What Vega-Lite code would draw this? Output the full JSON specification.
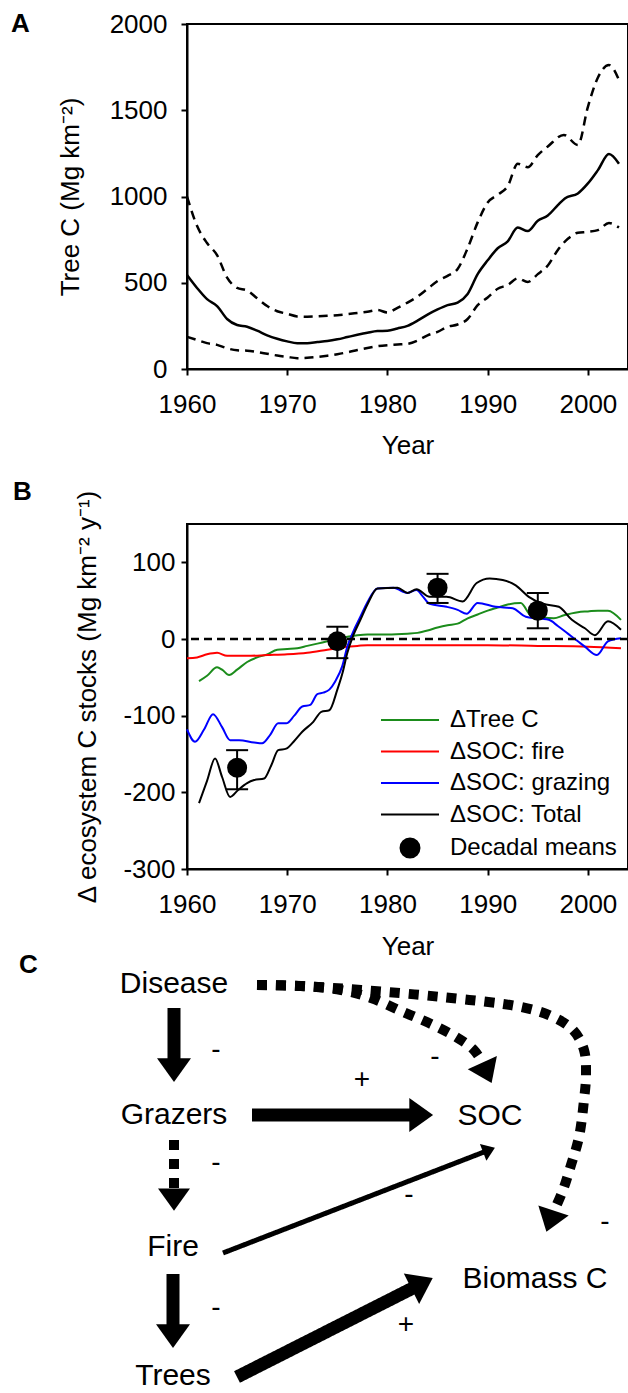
{
  "$schema": "https://vega.github.io/schema/vega-lite/v6.json",
  "padding": {"left": 10, "top": 10, "right": 0, "bottom": 0},
  "autosize": {"type": "pad"},
  "bounds": "flush",
  "spacing": 155,
  "resolve": {"scale": {"color": "independent"}, "legend": {"color": "independent"}},
  "config": {
    "font": "Liberation Sans",
    "view": {"stroke": "black", "strokeWidth": 2},
    "axis": {
      "grid": false, "domainColor": "black", "domainWidth": 2, "tickColor": "black", "tickWidth": 2, "tickSize": 6,
      "labelFont": "Liberation Sans", "labelFontSize": 26, "labelColor": "black", "labelPadding": 16, "labelFlush": false,
      "titleFont": "Liberation Sans", "titleFontSize": 26, "titleFontWeight": "normal", "titleColor": "black"
    },
    "text": {"font": "Liberation Sans", "color": "black"}
  },
  "datasets": {
    "treeC": [
      {"year": 1960, "stat": "mean", "c": 545}, {"year": 1961, "stat": "mean", "c": 470}, {"year": 1962, "stat": "mean", "c": 405},
      {"year": 1963, "stat": "mean", "c": 365}, {"year": 1964, "stat": "mean", "c": 290}, {"year": 1965, "stat": "mean", "c": 255},
      {"year": 1966, "stat": "mean", "c": 245}, {"year": 1967, "stat": "mean", "c": 222}, {"year": 1968, "stat": "mean", "c": 195},
      {"year": 1969, "stat": "mean", "c": 175}, {"year": 1970, "stat": "mean", "c": 160}, {"year": 1971, "stat": "mean", "c": 150},
      {"year": 1972, "stat": "mean", "c": 150}, {"year": 1973, "stat": "mean", "c": 156}, {"year": 1974, "stat": "mean", "c": 162},
      {"year": 1975, "stat": "mean", "c": 172}, {"year": 1976, "stat": "mean", "c": 185}, {"year": 1977, "stat": "mean", "c": 198},
      {"year": 1978, "stat": "mean", "c": 210}, {"year": 1979, "stat": "mean", "c": 220}, {"year": 1980, "stat": "mean", "c": 222},
      {"year": 1981, "stat": "mean", "c": 235}, {"year": 1982, "stat": "mean", "c": 250}, {"year": 1983, "stat": "mean", "c": 280},
      {"year": 1984, "stat": "mean", "c": 315}, {"year": 1985, "stat": "mean", "c": 345}, {"year": 1986, "stat": "mean", "c": 370},
      {"year": 1987, "stat": "mean", "c": 385}, {"year": 1988, "stat": "mean", "c": 435}, {"year": 1989, "stat": "mean", "c": 550},
      {"year": 1990, "stat": "mean", "c": 630}, {"year": 1991, "stat": "mean", "c": 700}, {"year": 1992, "stat": "mean", "c": 740},
      {"year": 1993, "stat": "mean", "c": 820}, {"year": 1994, "stat": "mean", "c": 800}, {"year": 1995, "stat": "mean", "c": 860},
      {"year": 1996, "stat": "mean", "c": 890}, {"year": 1997, "stat": "mean", "c": 950}, {"year": 1997.7, "stat": "mean", "c": 989},
      {"year": 1999, "stat": "mean", "c": 1018}, {"year": 2000, "stat": "mean", "c": 1076}, {"year": 2001, "stat": "mean", "c": 1153},
      {"year": 2002.1, "stat": "mean", "c": 1246}, {"year": 2003.1, "stat": "mean", "c": 1190},
      {"year": 1960, "stat": "upper", "c": 1000}, {"year": 1961, "stat": "upper", "c": 830}, {"year": 1962, "stat": "upper", "c": 730},
      {"year": 1963, "stat": "upper", "c": 660}, {"year": 1964, "stat": "upper", "c": 530}, {"year": 1965, "stat": "upper", "c": 470},
      {"year": 1966, "stat": "upper", "c": 455}, {"year": 1967, "stat": "upper", "c": 410}, {"year": 1968, "stat": "upper", "c": 365},
      {"year": 1969, "stat": "upper", "c": 335}, {"year": 1970, "stat": "upper", "c": 320}, {"year": 1971, "stat": "upper", "c": 305},
      {"year": 1972, "stat": "upper", "c": 303}, {"year": 1973, "stat": "upper", "c": 305}, {"year": 1974, "stat": "upper", "c": 308},
      {"year": 1975, "stat": "upper", "c": 312}, {"year": 1976, "stat": "upper", "c": 318}, {"year": 1977, "stat": "upper", "c": 325},
      {"year": 1978, "stat": "upper", "c": 332}, {"year": 1979, "stat": "upper", "c": 342}, {"year": 1980, "stat": "upper", "c": 328},
      {"year": 1981, "stat": "upper", "c": 355}, {"year": 1982, "stat": "upper", "c": 385}, {"year": 1983, "stat": "upper", "c": 420},
      {"year": 1984, "stat": "upper", "c": 465}, {"year": 1985, "stat": "upper", "c": 510}, {"year": 1986, "stat": "upper", "c": 540},
      {"year": 1987, "stat": "upper", "c": 580}, {"year": 1988, "stat": "upper", "c": 700}, {"year": 1989, "stat": "upper", "c": 850},
      {"year": 1990, "stat": "upper", "c": 965}, {"year": 1991, "stat": "upper", "c": 1010}, {"year": 1992, "stat": "upper", "c": 1060},
      {"year": 1993, "stat": "upper", "c": 1190}, {"year": 1994, "stat": "upper", "c": 1170}, {"year": 1995, "stat": "upper", "c": 1240},
      {"year": 1996, "stat": "upper", "c": 1290}, {"year": 1997.6, "stat": "upper", "c": 1357}, {"year": 1999, "stat": "upper", "c": 1298},
      {"year": 2000, "stat": "upper", "c": 1520}, {"year": 2001, "stat": "upper", "c": 1690}, {"year": 2002.1, "stat": "upper", "c": 1762},
      {"year": 2003.1, "stat": "upper", "c": 1675},
      {"year": 1960, "stat": "lower", "c": 187}, {"year": 1961, "stat": "lower", "c": 168}, {"year": 1962, "stat": "lower", "c": 150},
      {"year": 1963, "stat": "lower", "c": 140}, {"year": 1964, "stat": "lower", "c": 120}, {"year": 1965, "stat": "lower", "c": 108},
      {"year": 1966, "stat": "lower", "c": 106}, {"year": 1967, "stat": "lower", "c": 98}, {"year": 1968, "stat": "lower", "c": 88},
      {"year": 1969, "stat": "lower", "c": 78}, {"year": 1970, "stat": "lower", "c": 70}, {"year": 1971, "stat": "lower", "c": 63},
      {"year": 1972, "stat": "lower", "c": 65}, {"year": 1973, "stat": "lower", "c": 70}, {"year": 1974, "stat": "lower", "c": 77},
      {"year": 1975, "stat": "lower", "c": 86}, {"year": 1976, "stat": "lower", "c": 97}, {"year": 1977, "stat": "lower", "c": 110},
      {"year": 1978, "stat": "lower", "c": 122}, {"year": 1979, "stat": "lower", "c": 132}, {"year": 1980, "stat": "lower", "c": 138},
      {"year": 1981, "stat": "lower", "c": 142}, {"year": 1982, "stat": "lower", "c": 146}, {"year": 1983, "stat": "lower", "c": 165},
      {"year": 1984, "stat": "lower", "c": 195}, {"year": 1985, "stat": "lower", "c": 215}, {"year": 1986, "stat": "lower", "c": 245},
      {"year": 1987, "stat": "lower", "c": 258}, {"year": 1988, "stat": "lower", "c": 290}, {"year": 1989, "stat": "lower", "c": 370},
      {"year": 1990, "stat": "lower", "c": 415}, {"year": 1991, "stat": "lower", "c": 465}, {"year": 1992, "stat": "lower", "c": 487},
      {"year": 1993, "stat": "lower", "c": 525}, {"year": 1994, "stat": "lower", "c": 505}, {"year": 1995, "stat": "lower", "c": 550},
      {"year": 1996, "stat": "lower", "c": 600}, {"year": 1997, "stat": "lower", "c": 690}, {"year": 1998, "stat": "lower", "c": 755},
      {"year": 1999, "stat": "lower", "c": 790}, {"year": 2000, "stat": "lower", "c": 795}, {"year": 2001, "stat": "lower", "c": 805},
      {"year": 2002.1, "stat": "lower", "c": 846}, {"year": 2003.1, "stat": "lower", "c": 820}
    ],
    "soc": [
      {"series": "ΔTree C", "year": 1961.2, "v": -55}, {"series": "ΔTree C", "year": 1962, "v": -48}, {"series": "ΔTree C", "year": 1963, "v": -37},
      {"series": "ΔTree C", "year": 1963.5, "v": -40}, {"series": "ΔTree C", "year": 1964.2, "v": -47}, {"series": "ΔTree C", "year": 1965, "v": -40},
      {"series": "ΔTree C", "year": 1966, "v": -30}, {"series": "ΔTree C", "year": 1967, "v": -24}, {"series": "ΔTree C", "year": 1968, "v": -20},
      {"series": "ΔTree C", "year": 1969, "v": -14}, {"series": "ΔTree C", "year": 1970, "v": -13}, {"series": "ΔTree C", "year": 1971, "v": -12},
      {"series": "ΔTree C", "year": 1972, "v": -9}, {"series": "ΔTree C", "year": 1973, "v": -6}, {"series": "ΔTree C", "year": 1974, "v": -3},
      {"series": "ΔTree C", "year": 1975, "v": 0}, {"series": "ΔTree C", "year": 1976, "v": 3}, {"series": "ΔTree C", "year": 1977, "v": 5},
      {"series": "ΔTree C", "year": 1978, "v": 6}, {"series": "ΔTree C", "year": 1980, "v": 6}, {"series": "ΔTree C", "year": 1982, "v": 7},
      {"series": "ΔTree C", "year": 1983, "v": 8}, {"series": "ΔTree C", "year": 1984, "v": 11}, {"series": "ΔTree C", "year": 1985, "v": 15},
      {"series": "ΔTree C", "year": 1986, "v": 18}, {"series": "ΔTree C", "year": 1987, "v": 20}, {"series": "ΔTree C", "year": 1988, "v": 27},
      {"series": "ΔTree C", "year": 1989, "v": 32}, {"series": "ΔTree C", "year": 1990, "v": 37}, {"series": "ΔTree C", "year": 1991, "v": 41},
      {"series": "ΔTree C", "year": 1992, "v": 45}, {"series": "ΔTree C", "year": 1993.3, "v": 47}, {"series": "ΔTree C", "year": 1994.3, "v": 31},
      {"series": "ΔTree C", "year": 1995.5, "v": 28}, {"series": "ΔTree C", "year": 1996.6, "v": 27}, {"series": "ΔTree C", "year": 1997.6, "v": 31},
      {"series": "ΔTree C", "year": 1999, "v": 35}, {"series": "ΔTree C", "year": 2000, "v": 36}, {"series": "ΔTree C", "year": 2001, "v": 37},
      {"series": "ΔTree C", "year": 2002, "v": 37}, {"series": "ΔTree C", "year": 2003.3, "v": 25},
      {"series": "ΔSOC: fire", "year": 1960, "v": -25}, {"series": "ΔSOC: fire", "year": 1961, "v": -24}, {"series": "ΔSOC: fire", "year": 1962, "v": -20},
      {"series": "ΔSOC: fire", "year": 1963, "v": -18}, {"series": "ΔSOC: fire", "year": 1964, "v": -22}, {"series": "ΔSOC: fire", "year": 1966, "v": -22},
      {"series": "ΔSOC: fire", "year": 1968, "v": -21}, {"series": "ΔSOC: fire", "year": 1970, "v": -20}, {"series": "ΔSOC: fire", "year": 1972, "v": -18},
      {"series": "ΔSOC: fire", "year": 1974, "v": -14}, {"series": "ΔSOC: fire", "year": 1975, "v": -12}, {"series": "ΔSOC: fire", "year": 1976, "v": -10},
      {"series": "ΔSOC: fire", "year": 1977, "v": -9}, {"series": "ΔSOC: fire", "year": 1978, "v": -8}, {"series": "ΔSOC: fire", "year": 1985, "v": -8},
      {"series": "ΔSOC: fire", "year": 1990, "v": -8}, {"series": "ΔSOC: fire", "year": 1995, "v": -9}, {"series": "ΔSOC: fire", "year": 2000, "v": -10},
      {"series": "ΔSOC: fire", "year": 2003.3, "v": -12},
      {"series": "ΔSOC: grazing", "year": 1960, "v": -118}, {"series": "ΔSOC: grazing", "year": 1960.8, "v": -134}, {"series": "ΔSOC: grazing", "year": 1961.7, "v": -118},
      {"series": "ΔSOC: grazing", "year": 1962.6, "v": -98}, {"series": "ΔSOC: grazing", "year": 1963.5, "v": -115}, {"series": "ΔSOC: grazing", "year": 1964.3, "v": -132},
      {"series": "ΔSOC: grazing", "year": 1965.2, "v": -132}, {"series": "ΔSOC: grazing", "year": 1966.7, "v": -135}, {"series": "ΔSOC: grazing", "year": 1967.5, "v": -136},
      {"series": "ΔSOC: grazing", "year": 1968.3, "v": -125}, {"series": "ΔSOC: grazing", "year": 1969.1, "v": -110}, {"series": "ΔSOC: grazing", "year": 1969.9, "v": -110},
      {"series": "ΔSOC: grazing", "year": 1970.7, "v": -100}, {"series": "ΔSOC: grazing", "year": 1971.5, "v": -88}, {"series": "ΔSOC: grazing", "year": 1972.3, "v": -86},
      {"series": "ΔSOC: grazing", "year": 1973, "v": -72}, {"series": "ΔSOC: grazing", "year": 1973.6, "v": -70}, {"series": "ΔSOC: grazing", "year": 1974.2, "v": -66},
      {"series": "ΔSOC: grazing", "year": 1974.8, "v": -55}, {"series": "ΔSOC: grazing", "year": 1975.5, "v": -35}, {"series": "ΔSOC: grazing", "year": 1976, "v": -10},
      {"series": "ΔSOC: grazing", "year": 1976.6, "v": 10}, {"series": "ΔSOC: grazing", "year": 1977.3, "v": 29}, {"series": "ΔSOC: grazing", "year": 1978, "v": 48},
      {"series": "ΔSOC: grazing", "year": 1979, "v": 66}, {"series": "ΔSOC: grazing", "year": 1980.6, "v": 67}, {"series": "ΔSOC: grazing", "year": 1981.5, "v": 62},
      {"series": "ΔSOC: grazing", "year": 1982, "v": 60}, {"series": "ΔSOC: grazing", "year": 1982.9, "v": 64}, {"series": "ΔSOC: grazing", "year": 1983.5, "v": 56},
      {"series": "ΔSOC: grazing", "year": 1984.2, "v": 46}, {"series": "ΔSOC: grazing", "year": 1985.9, "v": 42}, {"series": "ΔSOC: grazing", "year": 1987, "v": 38},
      {"series": "ΔSOC: grazing", "year": 1987.9, "v": 33}, {"series": "ΔSOC: grazing", "year": 1989, "v": 47}, {"series": "ΔSOC: grazing", "year": 1990.8, "v": 42},
      {"series": "ΔSOC: grazing", "year": 1992.5, "v": 40}, {"series": "ΔSOC: grazing", "year": 1993.8, "v": 29}, {"series": "ΔSOC: grazing", "year": 1996.1, "v": 25},
      {"series": "ΔSOC: grazing", "year": 1997, "v": 17}, {"series": "ΔSOC: grazing", "year": 1998, "v": 7}, {"series": "ΔSOC: grazing", "year": 1999, "v": -3},
      {"series": "ΔSOC: grazing", "year": 1999.7, "v": -10}, {"series": "ΔSOC: grazing", "year": 2000.9, "v": -21}, {"series": "ΔSOC: grazing", "year": 2002, "v": -3},
      {"series": "ΔSOC: grazing", "year": 2003.3, "v": 1},
      {"series": "ΔSOC: Total", "year": 1961.2, "v": -214}, {"series": "ΔSOC: Total", "year": 1962, "v": -185}, {"series": "ΔSOC: Total", "year": 1962.8, "v": -156},
      {"series": "ΔSOC: Total", "year": 1963.5, "v": -180}, {"series": "ΔSOC: Total", "year": 1964.3, "v": -206}, {"series": "ΔSOC: Total", "year": 1965.1, "v": -197},
      {"series": "ΔSOC: Total", "year": 1966, "v": -188}, {"series": "ΔSOC: Total", "year": 1966.7, "v": -184}, {"series": "ΔSOC: Total", "year": 1967.7, "v": -182},
      {"series": "ΔSOC: Total", "year": 1968.4, "v": -165}, {"series": "ΔSOC: Total", "year": 1969.1, "v": -145}, {"series": "ΔSOC: Total", "year": 1969.9, "v": -143},
      {"series": "ΔSOC: Total", "year": 1970.7, "v": -133}, {"series": "ΔSOC: Total", "year": 1971.5, "v": -121}, {"series": "ΔSOC: Total", "year": 1972.6, "v": -108},
      {"series": "ΔSOC: Total", "year": 1973.4, "v": -95}, {"series": "ΔSOC: Total", "year": 1974.2, "v": -93}, {"series": "ΔSOC: Total", "year": 1975, "v": -66},
      {"series": "ΔSOC: Total", "year": 1975.5, "v": -45}, {"series": "ΔSOC: Total", "year": 1976, "v": -18}, {"series": "ΔSOC: Total", "year": 1976.6, "v": 5},
      {"series": "ΔSOC: Total", "year": 1977.3, "v": 25}, {"series": "ΔSOC: Total", "year": 1978, "v": 45}, {"series": "ΔSOC: Total", "year": 1979, "v": 66},
      {"series": "ΔSOC: Total", "year": 1981, "v": 67}, {"series": "ΔSOC: Total", "year": 1982, "v": 60}, {"series": "ΔSOC: Total", "year": 1982.9, "v": 65},
      {"series": "ΔSOC: Total", "year": 1984.2, "v": 55}, {"series": "ΔSOC: Total", "year": 1985.9, "v": 55}, {"series": "ΔSOC: Total", "year": 1987.5, "v": 49},
      {"series": "ΔSOC: Total", "year": 1988.9, "v": 73}, {"series": "ΔSOC: Total", "year": 1990.2, "v": 79}, {"series": "ΔSOC: Total", "year": 1991.5, "v": 77},
      {"series": "ΔSOC: Total", "year": 1992.8, "v": 70}, {"series": "ΔSOC: Total", "year": 1994.1, "v": 55}, {"series": "ΔSOC: Total", "year": 1995.5, "v": 46},
      {"series": "ΔSOC: Total", "year": 1997.1, "v": 42}, {"series": "ΔSOC: Total", "year": 1998.4, "v": 25}, {"series": "ΔSOC: Total", "year": 1999.7, "v": 14},
      {"series": "ΔSOC: Total", "year": 2000.7, "v": 5}, {"series": "ΔSOC: Total", "year": 2002, "v": 23}, {"series": "ΔSOC: Total", "year": 2003.3, "v": 12}
    ],
    "decadal": [
      {"series": "Decadal means", "year": 1965, "mean": -168, "lo": -196, "hi": -145},
      {"series": "Decadal means", "year": 1975, "mean": -3, "lo": -25, "hi": 16},
      {"series": "Decadal means", "year": 1985, "mean": 67, "lo": 47, "hi": 85},
      {"series": "Decadal means", "year": 1995, "mean": 37, "lo": 14, "hi": 60}
    ],
    "nodes": [
      {"label": "Disease", "x": -3.25, "y": -10}, {"label": "Grazers", "x": -3.25, "y": 22.75},
      {"label": "SOC", "x": 75.75, "y": 23}, {"label": "Fire", "x": -3.5, "y": 55.75},
      {"label": "Trees", "x": -3.5, "y": 88}, {"label": "Biomass C", "x": 87, "y": 63.75}
    ],
    "signs": [
      {"sign": "-", "x": 7.25, "y": 6.5}, {"sign": "+", "x": 43.75, "y": 14}, {"sign": "-", "x": 62, "y": 8.25},
      {"sign": "-", "x": 7.25, "y": 34.75}, {"sign": "-", "x": 55.5, "y": 42.75}, {"sign": "-", "x": 104.5, "y": 49.5},
      {"sign": "-", "x": 7.25, "y": 71}, {"sign": "+", "x": 54.75, "y": 75.25}
    ],
    "links": [
      {"link": "Disease→Grazers", "kind": "strong", "path": "straight", "x": -3.25, "y": -4, "x2": -3.25, "y2": 9},
      {"link": "Grazers→SOC", "kind": "strong", "path": "straight", "x": 16.25, "y": 22.75, "x2": 56, "y2": 22.75},
      {"link": "Grazers→Fire", "kind": "uncertain", "path": "straight", "x": -3.25, "y": 29, "x2": -3.25, "y2": 41.5},
      {"link": "Fire→Trees", "kind": "strong", "path": "straight", "x": -3.5, "y": 62.5, "x2": -3.5, "y2": 75.5},
      {"link": "Fire→SOC", "kind": "weak", "path": "straight", "x": 9, "y": 57.25, "x2": 74.25, "y2": 32},
      {"link": "Trees→Biomass C", "kind": "strong", "path": "straight", "x": 12.5, "y": 88.25, "x2": 56.5, "y2": 66},
      {"link": "Disease→SOC", "kind": "uncertain", "path": "curved", "x": 72.75, "y": 7.25, "x2": 74, "y2": 10},
      {"link": "Disease→Biomass C", "kind": "uncertain", "path": "curved", "x": 92.5, "y": 44, "x2": 91.5, "y2": 47}
    ],
    "curves": [
      {"link": "Disease→SOC", "i": 0, "x": 17.5, "y": -9.75}, {"link": "Disease→SOC", "i": 1, "x": 28.5, "y": -9.5},
      {"link": "Disease→SOC", "i": 2, "x": 38.5, "y": -8.5}, {"link": "Disease→SOC", "i": 3, "x": 46, "y": -6.5},
      {"link": "Disease→SOC", "i": 4, "x": 53.5, "y": -3.25}, {"link": "Disease→SOC", "i": 5, "x": 61, "y": 0},
      {"link": "Disease→SOC", "i": 6, "x": 67.25, "y": 3.25}, {"link": "Disease→SOC", "i": 7, "x": 71.5, "y": 6.25},
      {"link": "Disease→SOC", "i": 8, "x": 74, "y": 9.75},
      {"link": "Disease→Biomass C", "i": 0, "x": 17.5, "y": -9.75}, {"link": "Disease→Biomass C", "i": 1, "x": 28.5, "y": -9.5},
      {"link": "Disease→Biomass C", "i": 2, "x": 43.5, "y": -8.5}, {"link": "Disease→Biomass C", "i": 3, "x": 63.5, "y": -6.75},
      {"link": "Disease→Biomass C", "i": 4, "x": 83.5, "y": -4.25}, {"link": "Disease→Biomass C", "i": 5, "x": 91, "y": -2},
      {"link": "Disease→Biomass C", "i": 6, "x": 96.5, "y": 1.5}, {"link": "Disease→Biomass C", "i": 7, "x": 99.25, "y": 6.5},
      {"link": "Disease→Biomass C", "i": 8, "x": 99.75, "y": 12.75}, {"link": "Disease→Biomass C", "i": 9, "x": 99.25, "y": 19},
      {"link": "Disease→Biomass C", "i": 10, "x": 98, "y": 28.25}, {"link": "Disease→Biomass C", "i": 11, "x": 96, "y": 35.25},
      {"link": "Disease→Biomass C", "i": 12, "x": 94, "y": 41.5}, {"link": "Disease→Biomass C", "i": 13, "x": 91.75, "y": 46.75}
    ]
  },
  "vconcat": [
    {
      "width": 441, "height": 345,
      "layer": [
        {
          "data": {"name": "treeC"},
          "transform": [{"filter": "datum.stat === 'mean'"}],
          "mark": {"type": "line", "color": "black", "strokeWidth": 2.5, "interpolate": "monotone"},
          "encoding": {
            "x": {"field": "year", "type": "quantitative", "title": "Year", "scale": {"domain": [1960, 2004], "nice": false, "zero": false},
                  "axis": {"values": [1960, 1970, 1980, 1990, 2000], "format": "d", "titlePadding": 15}},
            "y": {"field": "c", "type": "quantitative", "title": "Tree C (Mg km⁻²)", "scale": {"domain": [0, 2000], "nice": false},
                  "axis": {"values": [0, 500, 1000, 1500, 2000], "format": "d", "labelPadding": 14, "titlePadding": 26}}
          }
        },
        {
          "data": {"name": "treeC"},
          "transform": [{"filter": "datum.stat !== 'mean'"}],
          "mark": {"type": "line", "color": "black", "strokeWidth": 2.5, "strokeDash": [9, 6], "interpolate": "monotone"},
          "encoding": {
            "x": {"field": "year", "type": "quantitative", "title": "Year"},
            "y": {"field": "c", "type": "quantitative", "title": "Tree C (Mg km⁻²)"},
            "detail": {"field": "stat"}
          }
        },
        {
          "data": {"values": [{"panel": "A"}]},
          "mark": {"type": "text", "fontSize": 26, "fontWeight": "bold", "align": "left", "baseline": "middle"},
          "encoding": {"x": {"datum": 1942.44}, "y": {"datum": 2000}, "text": {"field": "panel"}}
        }
      ]
    },
    {
      "width": 441, "height": 345,
      "layer": [
        {
          "data": {"name": "soc"},
          "mark": {"type": "line", "strokeWidth": 2, "interpolate": "monotone"},
          "encoding": {
            "x": {"field": "year", "type": "quantitative", "title": "Year", "scale": {"domain": [1960, 2004], "nice": false, "zero": false},
                  "axis": {"values": [1960, 1970, 1980, 1990, 2000], "format": "d", "titlePadding": 16}},
            "y": {"field": "v", "type": "quantitative", "title": "Δ ecosystem C stocks (Mg km⁻² y⁻¹)", "scale": {"domain": [-300, 150], "nice": false},
                  "axis": {"values": [-300, -200, -100, 0, 100], "labelExpr": "datum.value + ''", "labelPadding": 6, "titlePadding": 22}},
            "color": {
              "field": "series", "type": "nominal",
              "scale": {"domain": ["ΔTree C", "ΔSOC: fire", "ΔSOC: grazing", "ΔSOC: Total", "Decadal means"],
                        "range": ["#1b8c1b", "#ff0000", "#0000ff", "#000000", "#000000"]},
              "legend": {
                "orient": "none", "legendX": 211, "legendY": 184, "title": null,
                "labelFont": "Liberation Sans", "labelFontSize": 24, "labelColor": "black", "labelLimit": 400,
                "symbolSize": 374, "symbolType": "M-3,0H3", "symbolStrokeWidth": 2, "labelOffset": 28, "rowPadding": 7.5,
                "encode": {
                  "symbols": {
                    "update": {
                      "shape": {"signal": "datum.value === 'Decadal means' ? 'circle' : 'M-3,0H3'"},
                      "size": {"signal": "datum.value === 'Decadal means' ? 360 : 374"},
                      "fill": {"signal": "datum.value === 'Decadal means' ? 'black' : 'transparent'"},
                      "stroke": {"signal": "datum.value === 'ΔTree C' ? '#1b8c1b' : datum.value === 'ΔSOC: fire' ? '#ff0000' : datum.value === 'ΔSOC: grazing' ? '#0000ff' : 'black'"},
                      "strokeWidth": {"value": 2},
                      "opacity": {"value": 1}
                    }
                  }
                }
              }
            }
          }
        },
        {
          "data": {"values": [{"ref": 0}]},
          "mark": {"type": "rule", "color": "black", "strokeWidth": 2.5, "strokeDash": [8, 5]},
          "encoding": {"y": {"field": "ref", "type": "quantitative", "title": "Δ ecosystem C stocks (Mg km⁻² y⁻¹)"}}
        },
        {
          "data": {"name": "decadal"},
          "mark": {"type": "errorbar", "color": "black", "thickness": 2, "ticks": {"size": 22, "thickness": 2, "color": "black", "opacity": 1}, "rule": {"strokeWidth": 2, "color": "black", "opacity": 1}},
          "encoding": {
            "x": {"field": "year", "type": "quantitative", "title": "Year"},
            "y": {"field": "lo", "type": "quantitative", "title": "Δ ecosystem C stocks (Mg km⁻² y⁻¹)"},
            "y2": {"field": "hi"}
          }
        },
        {
          "data": {"name": "decadal"},
          "mark": {"type": "point", "shape": "circle", "filled": true, "size": 400, "opacity": 1},
          "encoding": {
            "x": {"field": "year", "type": "quantitative", "title": "Year"},
            "y": {"field": "mean", "type": "quantitative", "title": "Δ ecosystem C stocks (Mg km⁻² y⁻¹)"},
            "color": {"field": "series", "type": "nominal"}
          }
        },
        {
          "data": {"values": [{"panel": "B"}]},
          "mark": {"type": "text", "fontSize": 26, "fontWeight": "bold", "align": "left", "baseline": "middle"},
          "encoding": {"x": {"datum": 1942.64}, "y": {"datum": 191.7}, "text": {"field": "panel"}}
        }
      ]
    },
    {
      "width": 441, "height": 360,
      "view": {"stroke": null},
      "layer": [
        {
          "data": {"name": "links"},
          "transform": [{"filter": "datum.path === 'straight'"}],
          "mark": {"type": "rule", "color": "black", "strokeCap": "butt"},
          "encoding": {
            "x": {"field": "x", "type": "quantitative", "scale": {"domain": [0, 110.25], "nice": false, "zero": false}, "axis": null},
            "y": {"field": "y", "type": "quantitative", "scale": {"domain": [0, 90], "nice": false, "zero": false, "reverse": true}, "axis": null},
            "x2": {"field": "x2"},
            "y2": {"field": "y2"},
            "strokeWidth": {"field": "kind", "type": "nominal", "scale": {"type": "ordinal", "domain": ["strong", "weak", "uncertain"], "range": [13, 5, 10]}, "legend": null},
            "strokeDash": {"field": "kind", "type": "nominal", "scale": {"domain": ["strong", "weak", "uncertain"], "range": [[1, 0], [1, 0], [10, 9]]}, "legend": null}
          }
        },
        {
          "data": {"name": "curves"},
          "mark": {"type": "line", "color": "black", "strokeWidth": 10, "strokeDash": [10, 9], "interpolate": "catmull-rom", "strokeCap": "butt"},
          "encoding": {
            "x": {"field": "x", "type": "quantitative"},
            "y": {"field": "y", "type": "quantitative"},
            "detail": {"field": "link"},
            "order": {"field": "i", "type": "quantitative"}
          }
        },
        {
          "data": {"name": "links"},
          "transform": [{"calculate": "(atan2(datum.x2 - datum.x, datum.y - datum.y2) * 180 / PI + 360) % 360", "as": "dir"}],
          "mark": {"type": "point", "shape": "M0,-1.3L1,0.1L-1,0.1Z", "filled": true, "color": "black", "opacity": 1, "strokeWidth": 0},
          "encoding": {
            "x": {"field": "x2", "type": "quantitative"},
            "y": {"field": "y2", "type": "quantitative"},
            "angle": {"field": "dir", "type": "quantitative", "scale": null},
            "size": {"field": "kind", "type": "nominal", "scale": {"type": "ordinal", "domain": ["strong", "weak", "uncertain"], "range": [1156, 324, 1024]}, "legend": null}
          }
        },
        {
          "data": {"name": "nodes"},
          "mark": {"type": "text", "fontSize": 30, "align": "center", "baseline": "middle"},
          "encoding": {
            "x": {"field": "x", "type": "quantitative"},
            "y": {"field": "y", "type": "quantitative"},
            "text": {"field": "label"}
          }
        },
        {
          "data": {"name": "signs"},
          "mark": {"type": "text", "fontSize": 28, "align": "center", "baseline": "middle"},
          "encoding": {
            "x": {"field": "x", "type": "quantitative"},
            "y": {"field": "y", "type": "quantitative"},
            "text": {"field": "sign"}
          }
        },
        {
          "data": {"values": [{"panel": "C"}]},
          "mark": {"type": "text", "fontSize": 26, "fontWeight": "bold", "align": "left", "baseline": "middle"},
          "encoding": {"x": {"datum": -42}, "y": {"datum": -14.75}, "text": {"field": "panel"}}
        }
      ]
    }
  ]
}
